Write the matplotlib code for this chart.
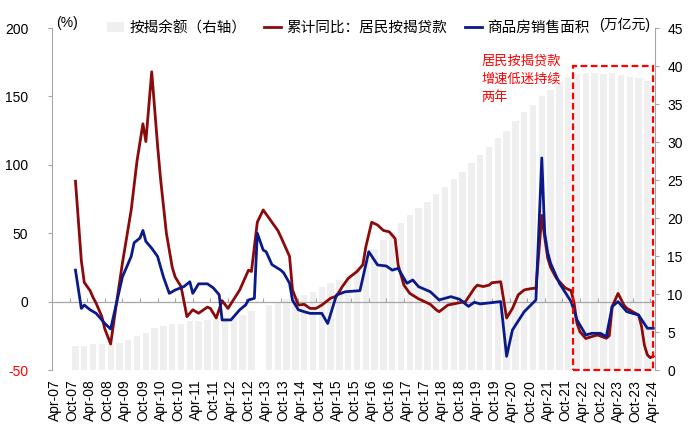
import numpy as np
import pandas as pd
import matplotlib
matplotlib.use("Agg")
import matplotlib.pyplot as plt
from matplotlib.patches import Patch, Rectangle
from matplotlib.lines import Line2D

plt.rcParams['font.family'] = ['Liberation Sans', 'Noto Sans CJK SC']
plt.rcParams['axes.unicode_minus'] = False

# 按揭余额 (万亿元), quarterly 2007Q4 - 2024Q1, 2013Q1 missing
bar_start = '2007Q4'
bar_end = '2024Q1'
balance = [3.1,
           3.2, 3.4, 3.4, 3.4,
           3.6, 3.95, 4.5, 4.9,
           5.5, 5.8, 6.0, 6.1,
           6.4, 6.5, 6.6, 6.7,
           6.8, 7.0, 7.2, 7.7,
           np.nan, 8.5, 8.9, 9.3,
           9.6, 9.9, 10.3, 10.9,
           11.4, 11.9, 12.6, 13.5,
           14.6, 15.9, 17.1, 18.2,
           19.3, 20.4, 21.3, 22.1,
           23.2, 24.1, 25.1, 26.1,
           27.2, 28.3, 29.4, 30.5,
           31.4, 32.7, 34.0, 34.9,
           36.0, 36.8, 37.9, 38.5,
           39.0, 39.1, 39.1, 39.0,
           39.1, 38.8, 38.6, 38.4,
           38.0]

# 累计同比：居民按揭贷款 (%)
red_months = ['2007-11', '2008-01', '2008-02', '2008-04', '2008-05', '2008-06', '2008-08', '2008-09', '2008-11',
              '2009-01', '2009-03', '2009-06', '2009-08', '2009-10', '2009-11', '2010-01', '2010-03', '2010-04',
              '2010-06', '2010-08', '2010-09', '2010-11', '2011-01', '2011-03', '2011-05', '2011-08', '2011-09',
              '2011-11', '2012-01', '2012-03', '2012-07', '2012-10', '2012-11', '2013-01', '2013-03', '2013-05',
              '2013-08', '2013-09', '2013-12', '2014-01', '2014-03', '2014-05', '2014-07', '2014-09', '2014-11',
              '2015-02', '2015-04', '2015-06', '2015-08', '2015-11', '2016-01', '2016-02', '2016-03', '2016-04',
              '2016-06', '2016-08', '2016-10', '2016-12', '2017-01', '2017-03', '2017-05', '2017-08', '2017-12',
              '2018-02', '2018-03', '2018-06', '2018-10', '2018-12', '2019-03', '2019-04', '2019-06', '2019-08',
              '2019-09', '2019-12', '2020-02', '2020-04', '2020-06', '2020-08', '2020-09', '2020-11', '2020-12',
              '2021-02', '2021-03', '2021-04', '2021-05', '2021-07', '2021-10', '2021-12', '2022-01', '2022-02',
              '2022-03', '2022-05', '2022-07', '2022-09', '2022-12', '2023-01', '2023-02', '2023-04', '2023-06',
              '2023-07', '2023-09', '2023-11', '2023-12', '2024-01', '2024-02', '2024-03', '2024-04']
red_vals = [88, 30, 14, 8, 3, -1, -11, -20, -31,
            -1, 28, 67, 103, 130, 117, 168, 114, 90,
            50, 25, 18, 11, -11, -6, -8.5, -4, -5,
            -12, 0.7, -5, 8.5, 23, 22, 58, 67, 61,
            52, 47.5, 33, 8.5, -2.5, -2, -5, -5, -2.5,
            2.5, 4, 11, 17, 22, 27, 40, 49, 58,
            56, 52, 51, 46, 27, 12, 6, 2, -2,
            -6, -7.4, -2.5, -0.8, 0, 9.7, 12, 11, 12,
            13.8, 14.5, -12, -5, 5, 8.5, 9, 9.7, 9.7,
            63, 47, 32, 25, 17, 10, 8, -1, -16,
            -22, -27, -25.6, -24.4, -26.8, -25, -3.6, 6, -2.5,
            -4.9, -7.4, -9.8, -18, -32, -39, -41, -40]

# 商品房销售面积 累计同比 (%)
blue_months = ['2007-11', '2008-01', '2008-02', '2008-04', '2008-06', '2008-08', '2008-09', '2008-11',
               '2009-01', '2009-03', '2009-06', '2009-07', '2009-09', '2009-10', '2009-11', '2010-01',
               '2010-03', '2010-05', '2010-07', '2010-09', '2010-12', '2011-02', '2011-03', '2011-05',
               '2011-08', '2011-10', '2011-12', '2012-01', '2012-04', '2012-07', '2012-09', '2012-10',
               '2012-12', '2013-01', '2013-03', '2013-04', '2013-06', '2013-09', '2013-10', '2013-12',
               '2014-01', '2014-03', '2014-05', '2014-07', '2014-11', '2015-01', '2015-04', '2015-07',
               '2015-12', '2016-03', '2016-06', '2016-09', '2016-11', '2017-01', '2017-04', '2017-06',
               '2017-08', '2017-12', '2018-03', '2018-07', '2018-10', '2019-01', '2019-03', '2019-05',
               '2019-12', '2020-02', '2020-04', '2020-08', '2020-12', '2021-02', '2021-03', '2021-04',
               '2021-05', '2021-08', '2021-12', '2022-02', '2022-05', '2022-07', '2022-10', '2022-12',
               '2023-02', '2023-04', '2023-07', '2023-11', '2024-02', '2024-04']
blue_vals = [23, -5, -2.5, -6, -8.5, -13.4, -16, -20,
             -1, 18, 33, 43, 46.5, 52, 44, 39,
             33, 18, 6, 8.5, 11, 14.5, 6, 13,
             13, 10, 5, -13.4, -13.4, -6, -2.5, 1.2,
             2.4, 50, 37.7, 36.5, 27, 23, 21, 13.4,
             1, -6, -7.4, -8.6, -8.6, -16, 4.8, 7.2,
             8, 36.5, 26.8, 26, 23, 24.3, 13.4, 15.8,
             10.9, 7.2, 1.2, 3.6, 1.7, -3.5, -0.5, -1.7,
             0, -40, -20.7, -7.4, 1.2, 105, 50, 36,
             28, 13.4, 0, -13.4, -24.4, -23.2, -23.2, -25.6,
             -3.6, 0, -7.4, -9.8, -19.5, -19.5]

box_from = '2022-01'
box_to = '2024-04'
box_top = 40

BAR_C = '#EFEFEF'
RED_C = '#8B0A0A'
BLUE_C = '#0A1A8A'
GRID_C = '#A6A6A6'


def midx(s):
    # months since Apr-2007
    y, m = s.split('-')
    return (int(y) - 2007) * 12 + int(m) - 4


quarters = pd.period_range(bar_start, bar_end, freq='Q')
bar_x = [(q.year - 2007) * 12 + q.quarter * 3 - 1 - 4 for q in quarters]  # middle month of quarter

tick_dates = pd.date_range('2007-04-01', '2024-04-01', freq='6MS')
tick_x = [midx(d.strftime('%Y-%m')) for d in tick_dates]
tick_lbl = [d.strftime('%b-%y') for d in tick_dates]

fig = plt.figure(figsize=(7, 4.4), dpi=100)
ax = fig.add_axes([52 / 700, 70 / 440, 603 / 700, 342 / 440])
ax2 = ax.twinx()
ax.set_zorder(ax2.get_zorder() + 1)
ax.patch.set_visible(False)

ax2.bar(bar_x, balance, width=2.15, color=BAR_C, zorder=1)
ax2.set_ylim(0, 45)
ax2.set_yticks(range(0, 46, 5))

ax.plot([midx(s) for s in red_months], red_vals, color=RED_C, lw=2.0, zorder=4)
ax.plot([midx(s) for s in blue_months], blue_vals, color=BLUE_C, lw=2.0, zorder=5)
ax.axhline(0, color=GRID_C, lw=0.9, zorder=2)

ax.set_ylim(-50, 200)
ax.set_yticks(range(-50, 201, 50))
ax.set_xlim(-1.0, 204.6)
ax.set_xticks(tick_x)
ax.set_xticklabels(tick_lbl, rotation=90, fontsize=10)
ax.tick_params(axis='x', length=0, pad=7)
ax.tick_params(axis='y', length=3, color=GRID_C, labelsize=10, pad=14)
ax2.tick_params(axis='y', length=3, color=GRID_C, labelsize=10, pad=6)
ax.get_yticklabels()[0].set_color('#FF0000')

for sp in ['top', 'bottom', 'right']:
    ax.spines[sp].set_visible(False)
    ax2.spines[sp if sp != 'right' else 'left'].set_visible(False)
ax.spines['left'].set_color(GRID_C)
ax2.spines['right'].set_color(GRID_C)

# small ticks along the zero line
sec = ax.secondary_xaxis(0.2)
sec.set_xticks(np.array(tick_x) - 1)
sec.tick_params(axis='x', direction='in', length=3, color=GRID_C, labelbottom=False, labeltop=False)
for sp in sec.spines.values():
    sp.set_visible(False)

# red dashed box (right axis units)
rect = Rectangle((midx(box_from) - 0.5, 0), midx(box_to) - midx(box_from) + 0.5, box_top,
                 transform=ax2.transData, fill=False, edgecolor='#FF0000', lw=1.6,
                 linestyle=(0, (3, 1.6)), clip_on=False, zorder=6)
ax.add_patch(rect)
ax.text(0.7126, 0.921, '居民按揭贷款\n增速低迷持续\n两年', transform=ax.transAxes, color='#FF0000',
        fontsize=9.5, ha='left', va='top', linespacing=1.6)

ax.text(0.025, 1.0146, '(%)', transform=ax.transAxes, ha='center', va='center', fontsize=10)
ax.text(0.950, 1.009, '(万亿元)', transform=ax.transAxes, ha='center', va='center', fontsize=10)

handles = [Patch(facecolor=BAR_C, edgecolor='none'),
           Line2D([], [], color=RED_C, lw=2.0),
           Line2D([], [], color=BLUE_C, lw=2.0)]
labels = ['按揭余额（右轴）', '累计同比：居民按揭贷款', '商品房销售面积']
ax.legend(handles, labels, loc='center', bbox_to_anchor=(0.4917, 1.0), ncol=3, frameon=False,
          fontsize=10.5, handlelength=1.15, handletextpad=0.35, columnspacing=1.25)

fig.savefig('out.png', dpi=100)
